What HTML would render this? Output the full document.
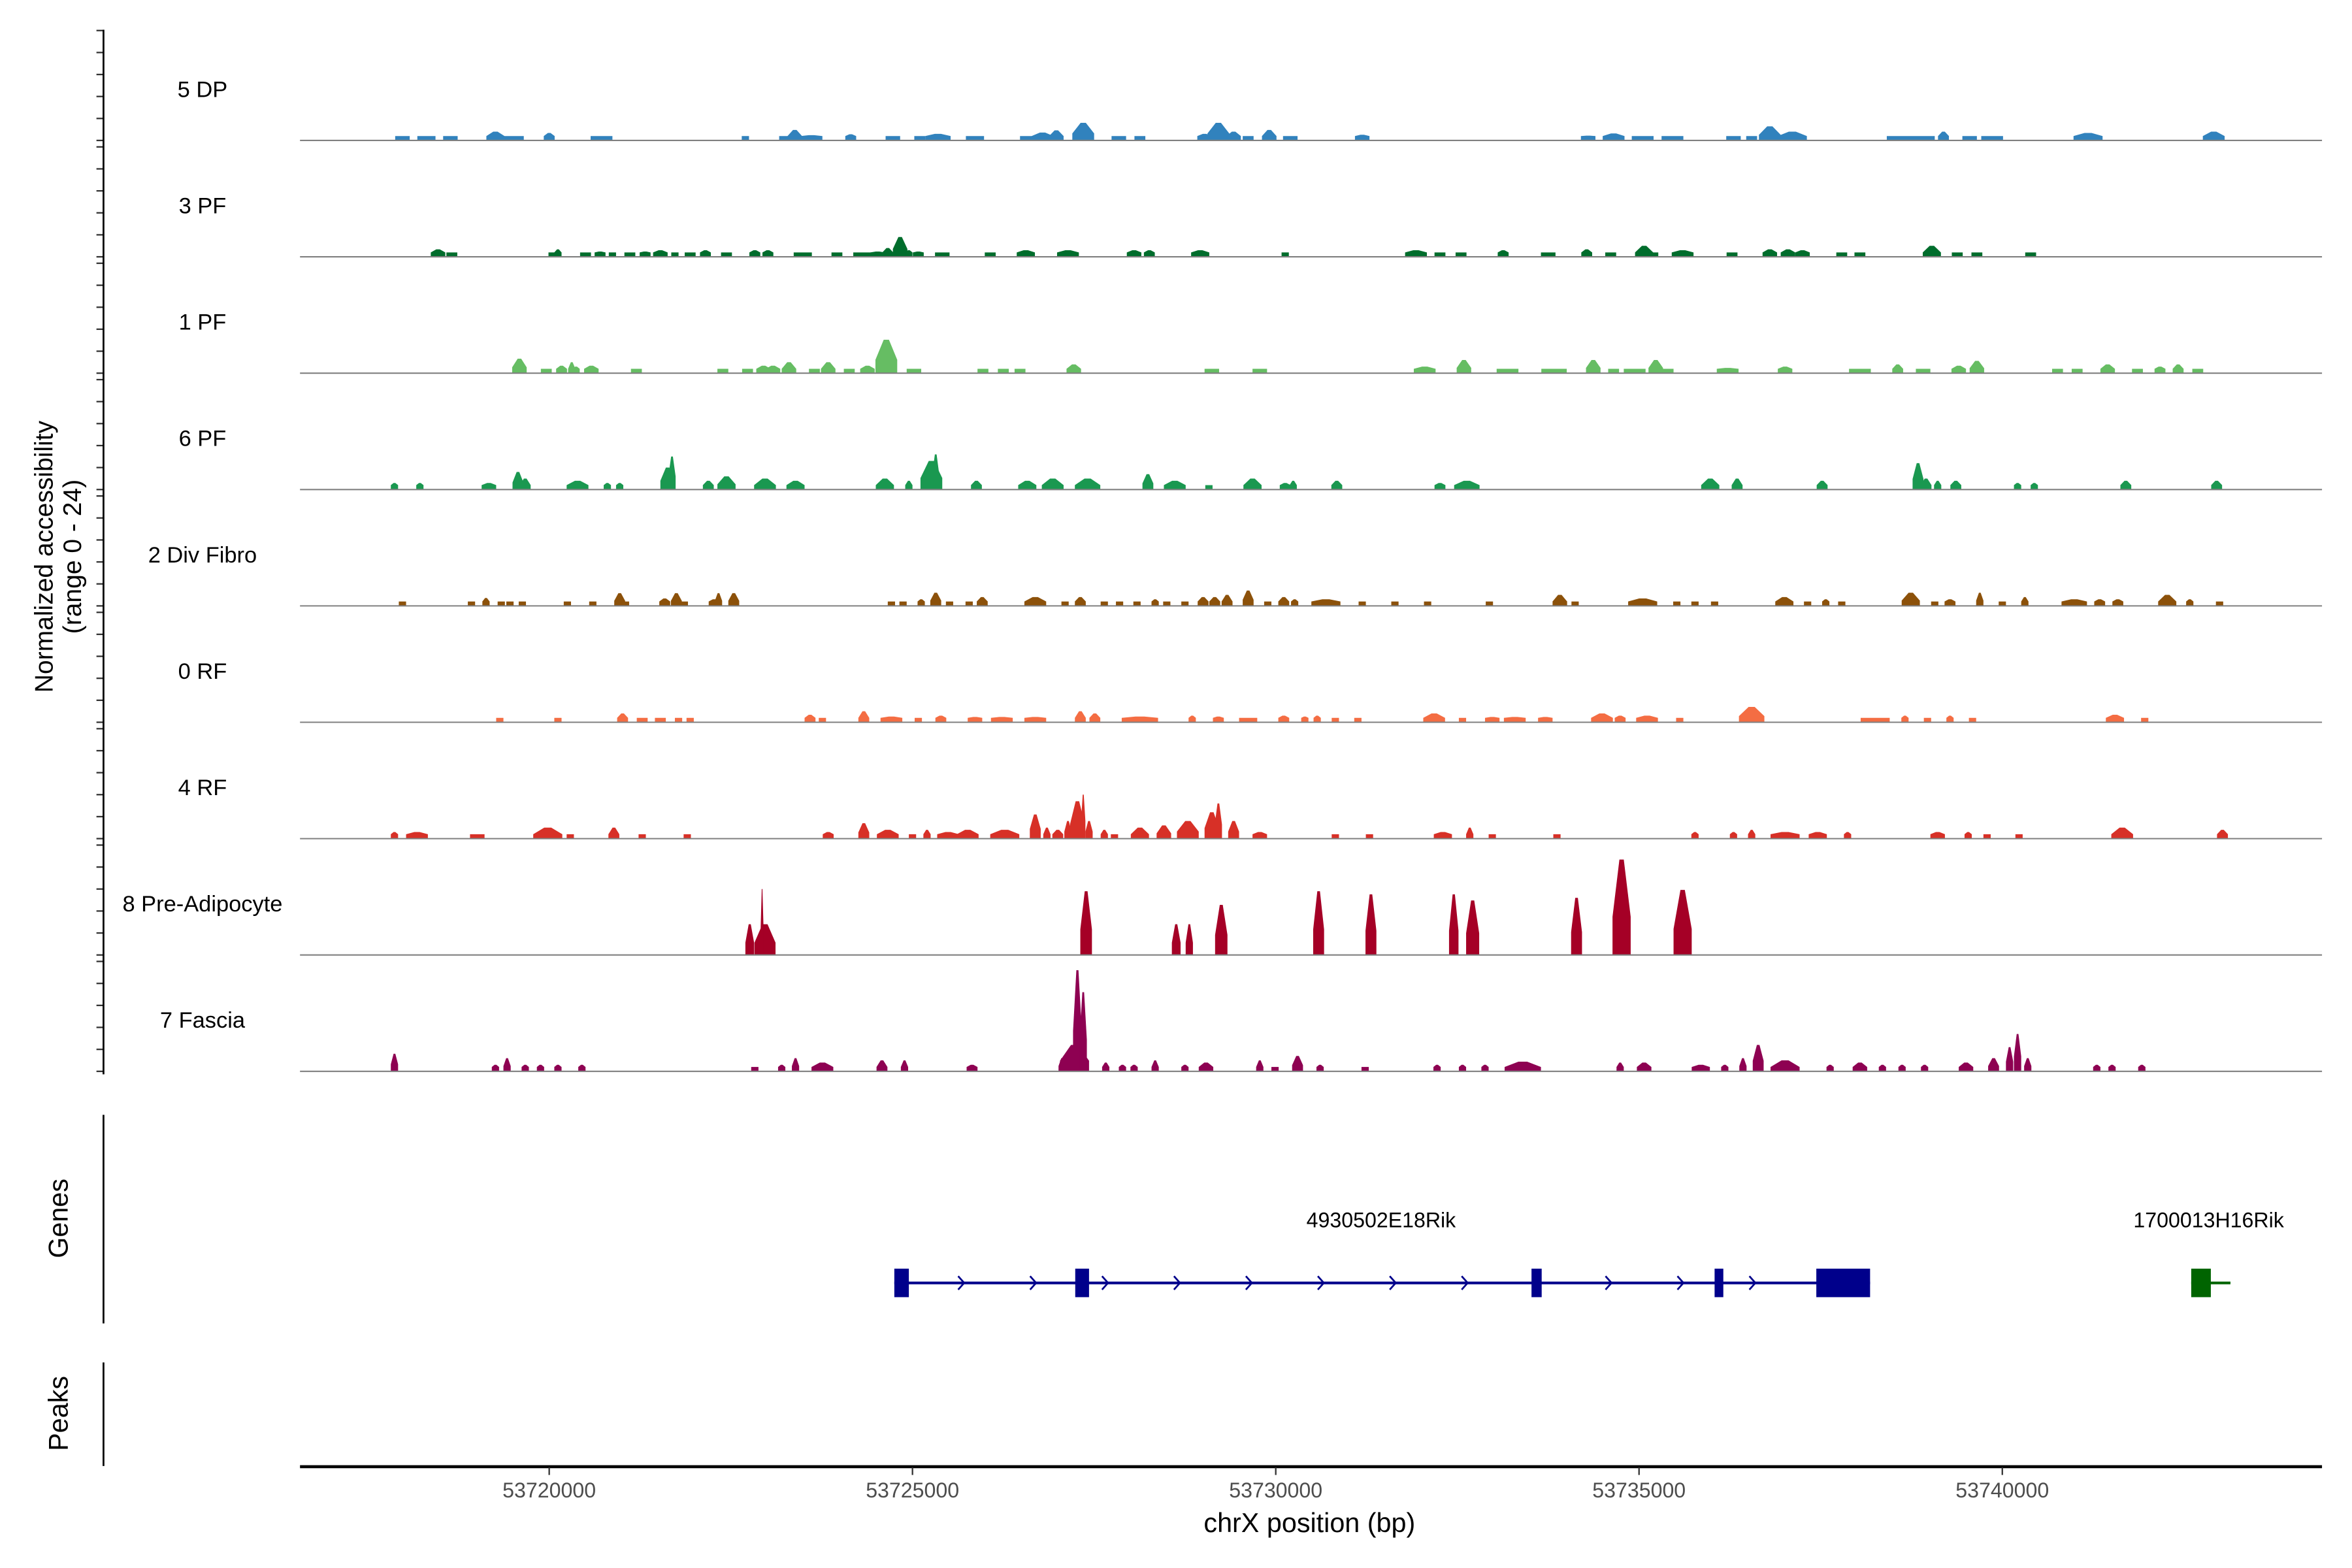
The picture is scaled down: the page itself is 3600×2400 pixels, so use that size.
<!DOCTYPE html>
<html><head><meta charset="utf-8">
<style>
html,body{margin:0;padding:0;background:#fff;}
svg{display:block;font-family:"Liberation Sans",sans-serif;}
</style></head>
<body>
<svg id="chart" xmlns="http://www.w3.org/2000/svg" width="3600" height="2400" viewBox="0 0 1568 1045" preserveAspectRatio="none">
  <rect x="0" y="0" width="1568" height="1045" fill="#fff"/>
  <g id="tracks"></g>
  <g id="yaxis"></g>
  <text transform="translate(35,371) rotate(-90)" text-anchor="middle" font-size="17" fill="#000">Normalized accessibility</text>
  <text transform="translate(54,371) rotate(-90)" text-anchor="middle" font-size="17" fill="#000">(range 0 - 24)</text>
  <line x1="69" y1="743" x2="69" y2="882" stroke="#000" stroke-width="1.2"/>
  <text transform="translate(45,812) rotate(-90)" text-anchor="middle" font-size="18" fill="#000">Genes</text>
  <line x1="69" y1="908" x2="69" y2="977" stroke="#000" stroke-width="1.2"/>
  <text transform="translate(45,942) rotate(-90)" text-anchor="middle" font-size="18" fill="#000">Peaks</text>
  <g id="genes"></g>
  <g id="xaxis"></g>
  <text x="873" y="1021" text-anchor="middle" font-size="18" fill="#000">chrX position (bp)</text>
</svg>
<script>
const regionStartKb = 53700;
const trackNames = ["5 DP","3 PF","1 PF","6 PF","2 Div Fibro","0 RF","4 RF","8 Pre-Adipocyte","7 Fascia"];
const trackColors = ["#3182bd","#006d2c","#66bd63","#1a9850","#8c510a","#f46d43","#d73027","#a50026","#8e0152"];
const xTickValues = [53720000,53725000,53730000,53735000,53740000];
const xTickLabels = ["53720000","53725000","53730000","53735000","53740000"];
const yTickUnits = [0,5,10,15,20,25];
// peaks: [position kb offset from regionStartKb, height (normalized), width kb]
const peaksDP = [[17.98,1,.2],[18.31,1,.25],[18.64,1,.2],[19.26,2,.25],[19.50,1,.3],[20.00,1.7,.15],[20.72,1,.3],[22.70,1,.1],[23.24,1,.15],[23.38,2.4,.2],[23.61,1.2,.3],[24.15,1.4,.15],[24.73,1,.2],[25.10,1,.15],[25.35,1.5,.35],[25.86,1,.25],[26.58,1,.2],[26.79,1.8,.3],[26.98,2.3,.2],[27.35,4,.3],[27.84,1,.2],[28.13,1,.15],[29.02,1.5,.2],[29.21,4,.3],[29.42,2,.2],[29.62,1,.15],[29.91,2.4,.2],[30.20,1,.2],[31.19,1.3,.2],[34.30,1.1,.2],[34.65,1.6,.3],[35.05,1,.3],[35.46,1,.3],[36.30,1,.2],[36.55,1,.15],[36.80,3.2,.3],[37.11,2,.4],[38.74,1,.66],[39.19,2,.15],[39.55,1,.2],[39.86,1,.3],[41.18,1.7,.4],[42.91,2,.3]];
const peaksPF3 = [[18.47,1.7,.2],[18.66,1,.15],[20.04,1,.1],[20.12,1.7,.1],[20.50,1,.15],[20.70,1.2,.15],[20.87,1,.1],[21.11,1,.15],[21.32,1.2,.15],[21.53,1.5,.2],[21.73,1,.1],[21.94,1,.15],[22.15,1.5,.15],[22.44,1,.15],[22.83,1.5,.15],[23.01,1.5,.15],[23.49,1,.25],[23.96,1,.15],[24.31,1,.25],[24.52,1.2,.2],[24.66,2,.15],[24.83,4.5,.2],[24.95,1.5,.1],[25.08,1.2,.15],[25.41,1,.2],[26.07,1,.15],[26.56,1.5,.25],[27.14,1.5,.3],[28.05,1.5,.2],[28.26,1.5,.15],[28.96,1.5,.25],[30.13,1,.1],[31.93,1.5,.3],[32.26,1,.15],[32.55,1,.15],[33.13,1.5,.15],[33.75,1,.2],[34.28,1.7,.15],[34.61,1,.15],[35.07,2.5,.25],[35.19,1,.15],[35.60,1.5,.3],[36.28,1,.15],[36.80,1.7,.2],[37.05,1.7,.2],[37.25,1.5,.2],[37.79,1,.15],[38.04,1,.15],[39.03,2.5,.25],[39.38,1,.15],[39.65,1,.15],[40.39,1,.15]];
const peaksPF1 = [[19.59,3.3,.2],[19.96,1,.15],[20.17,1.7,.15],[20.31,2.5,.1],[20.37,1.5,.1],[20.58,1.7,.2],[21.20,1,.15],[22.39,1,.15],[22.73,1,.15],[22.95,1.7,.2],[23.08,1.7,.2],[23.30,2.5,.2],[23.65,1,.15],[23.84,2.5,.2],[24.13,1,.15],[24.38,1.7,.2],[24.64,7.6,.3],[25.02,1,.2],[25.97,1,.15],[26.25,1,.15],[26.48,1,.15],[27.22,2,.2],[29.12,1,.2],[29.78,1,.2],[32.05,1.5,.3],[32.59,3,.2],[33.19,1,.3],[33.83,1,.35],[34.37,3,.2],[34.65,1,.15],[34.94,1,.3],[35.23,3,.2],[35.40,1,.15],[36.22,1.2,.3],[37.01,1.5,.2],[38.04,1,.3],[38.56,2,.15],[38.91,1,.2],[39.40,1.7,.2],[39.65,2.8,.2],[40.76,1,.15],[41.03,1,.15],[41.45,2,.2],[41.86,1,.15],[42.17,1.5,.15],[42.42,2,.15],[42.69,1,.15]];
const peaksPF6 = [[17.87,1.5,.1],[18.22,1.5,.1],[19.17,1.5,.2],[19.57,4,.15],[19.67,2.5,.15],[20.39,2,.3],[20.80,1.5,.1],[20.97,1.5,.1],[21.63,5,.2],[21.69,7.5,.1],[22.19,2,.15],[22.44,3,.25],[22.97,2.5,.3],[23.39,2,.25],[24.62,2.5,.25],[24.95,2,.1],[25.26,6.5,.3],[25.32,8,.1],[25.88,2,.15],[26.58,2,.25],[26.93,2.5,.3],[27.41,2.5,.35],[28.24,3.5,.15],[28.61,2,.3],[29.08,1,.1],[29.68,2.5,.25],[30.13,1.5,.15],[30.24,2,.1],[30.84,2,.15],[32.26,1.5,.15],[32.63,2,.35],[35.98,2.5,.25],[36.35,2.5,.15],[37.52,2,.15],[38.84,6,.15],[38.95,2.5,.15],[39.11,2,.1],[39.36,2,.15],[40.21,1.5,.1],[40.44,1.5,.1],[41.70,2,.15],[42.95,2,.15]];
const peaksDiv = [[17.98,1,.1],[18.93,1,.1],[19.13,1.8,.1],[19.34,1,.1],[19.46,1,.1],[19.63,1,.1],[20.25,1,.1],[20.60,1,.1],[20.97,2.9,.15],[21.05,1,.1],[21.59,1.7,.15],[21.75,2.9,.15],[21.86,1,.1],[22.27,1.5,.15],[22.33,2.9,.1],[22.54,2.9,.15],[24.71,1,.1],[24.87,1,.1],[25.12,1.5,.1],[25.32,3,.15],[25.51,1,.1],[25.78,1,.1],[25.96,2,.15],[26.69,2,.3],[27.10,1,.1],[27.31,2,.15],[27.64,1,.1],[27.85,1,.1],[28.09,1,.1],[28.34,1.5,.1],[28.50,1,.1],[28.75,1,.1],[29.00,2,.15],[29.16,2,.15],[29.33,2.5,.15],[29.62,3.5,.15],[29.89,1,.1],[30.11,2,.15],[30.26,1.5,.1],[30.69,1.5,.4],[31.19,1,.1],[31.64,1,.1],[32.09,1,.1],[32.94,1,.1],[33.91,2.5,.2],[34.12,1,.1],[35.05,1.7,.4],[35.52,1,.1],[35.77,1,.1],[36.04,1,.1],[37.00,2,.25],[37.32,1,.1],[37.57,1.5,.1],[37.79,1,.1],[38.74,3,.25],[39.07,1,.1],[39.28,1.5,.15],[39.69,3,.1],[40.00,1,.1],[40.31,2,.1],[40.99,1.5,.35],[41.34,1.5,.15],[41.59,1.5,.15],[42.27,2.5,.25],[42.58,1.5,.1],[42.99,1,.1]];
const peaksRF0 = [[19.32,1,.1],[20.12,1,.1],[21.01,2,.15],[21.28,1,.15],[21.53,1,.15],[21.78,1,.1],[21.94,1,.1],[23.59,1.7,.15],[23.76,1,.1],[24.33,2.5,.15],[24.71,1.3,.3],[25.08,1,.1],[25.39,1.5,.15],[25.86,1.2,.2],[26.23,1.2,.3],[26.69,1.2,.3],[27.31,2.5,.15],[27.51,2,.15],[28.13,1.3,.5],[28.85,1.5,.1],[29.21,1.3,.15],[29.62,1,.25],[30.11,1.5,.15],[30.40,1.3,.1],[30.57,1.5,.1],[30.82,1,.1],[31.13,1,.1],[32.18,2,.3],[32.57,1,.1],[32.98,1.2,.2],[33.29,1.2,.3],[33.71,1.2,.2],[34.49,2,.3],[34.74,1.5,.15],[35.11,1.5,.3],[35.56,1,.1],[36.55,3.5,.35],[38.25,1,.4],[38.66,1.5,.1],[38.97,1,.1],[39.28,1.5,.1],[39.59,1,.1],[41.55,1.7,.25],[41.96,1,.1]];
const peaksRF4 = [[17.87,1.5,.1],[18.18,1.5,.3],[19.01,1,.2],[19.98,2.5,.4],[20.29,1,.1],[20.89,2.5,.15],[21.28,1,.1],[21.90,1,.1],[23.84,1.5,.15],[24.33,3.5,.15],[24.66,2,.3],[25.00,1,.1],[25.20,2,.1],[25.49,1.5,.3],[25.76,2,.3],[26.27,2,.4],[26.69,5.5,.15],[26.85,2.5,.1],[27.00,2,.15],[27.14,4,.1],[27.27,8.5,.2],[27.35,10,.06],[27.43,4,.1],[27.64,2,.1],[27.78,1,.1],[28.13,2.5,.25],[28.46,3,.2],[28.79,4,.3],[29.12,6,.2],[29.21,8,.1],[29.42,4,.15],[29.78,1.5,.2],[30.82,1,.1],[31.29,1,.1],[32.30,1.5,.25],[32.67,2.5,.1],[32.98,1,.1],[33.87,1,.1],[35.77,1.5,.1],[36.30,1.5,.1],[36.55,2,.1],[37.01,1.5,.4],[37.46,1.5,.25],[37.87,1.5,.1],[39.11,1.5,.2],[39.53,1.5,.1],[39.79,1,.1],[40.23,1,.1],[41.65,2.5,.3],[43.03,2,.15]];
const peaksPreAd = [[22.76,7,.12],[22.97,7,.29],[22.93,15,.04],[27.39,14.5,.16],[28.63,7,.12],[28.81,7,.1],[29.25,11.4,.17],[30.59,14.5,.15],[31.31,13.8,.15],[32.45,13.8,.13],[32.71,12.4,.18],[34.14,13,.15],[34.76,21.7,.25],[35.60,14.8,.25]];
const peaksFascia = [[17.87,4,.1],[19.26,1.5,.1],[19.42,3,.1],[19.67,1.5,.1],[19.88,1.5,.1],[20.12,1.5,.1],[20.45,1.5,.1],[22.83,1,.1],[23.20,1.5,.1],[23.39,3,.1],[23.76,2,.3],[24.58,2.5,.15],[24.89,2.5,.1],[25.82,1.5,.15],[27.06,3,.1],[27.23,6,.4],[27.27,23,.12],[27.35,18,.1],[27.66,2,.1],[27.89,1.5,.1],[28.05,1.5,.1],[28.34,2.5,.1],[28.75,1.5,.1],[29.04,2,.2],[29.78,2.5,.1],[29.99,1,.1],[30.30,3.5,.15],[30.61,1.5,.1],[31.23,1,.1],[32.22,1.5,.1],[32.57,1.5,.1],[32.88,1.5,.1],[33.40,2.2,.5],[34.74,2,.1],[35.07,2,.2],[35.85,1.5,.25],[36.18,1.5,.1],[36.43,3,.1],[36.64,6,.15],[37.01,2.5,.4],[37.63,1.5,.1],[38.04,2,.2],[38.35,1.5,.1],[38.62,1.5,.1],[38.93,1.5,.1],[39.50,2,.2],[39.88,3,.15],[40.10,5.5,.1],[40.21,8.5,.1],[40.35,3,.1],[41.30,1.5,.1],[41.51,1.5,.1],[41.92,1.5,.1]];
const trackPeaks = [peaksDP,peaksPF3,peaksPF1,peaksPF6,peaksDiv,peaksRF0,peaksRF4,peaksPreAd,peaksFascia];
// genes (kb offsets)
const geneMainSpan = [24.75,38.18];
const geneMainExons = [[24.75,24.95],[27.24,27.43],[33.52,33.66],[36.04,36.16],[37.44,38.18]];
const geneMainChevrons = [24.83,25.67,26.66,27.65,28.64,29.63,30.62,31.61,32.60,34.58,35.57,36.56];
const geneSecondSpan = [42.60,43.14];
const geneSecondExons = [[42.60,42.87]];
const geneLabels = ["4930502E18Rik","1700013H16Rik"];
const geneLabelPos = [31.45,42.84];

const NS = "http://www.w3.org/2000/svg";
const plotLeft = 200, plotRight = 1548, domainMin = 16.57, domainMax = 44.40;
function xScale(kb){ return plotLeft + (kb - domainMin) * (plotRight - plotLeft) / (domainMax - domainMin); }
const firstBaseline = 93.6, trackStep = 77.55, pxPerUnit = 2.93;
function baseY(i){ return firstBaseline + i * trackStep; }
function yScale(i, v){ return baseY(i) - v * pxPerUnit; }
function mk(tag, attrs, parent){ const e = document.createElementNS(NS, tag); for (const k in attrs) e.setAttribute(k, attrs[k]); parent.appendChild(e); return e; }

const tracksG = document.getElementById('tracks');
const yG = document.getElementById('yaxis');
trackNames.forEach((name, i) => {
  const g = mk('g', {}, tracksG);
  
  
  const lab = mk('text', {x: 135, y: baseY(i) - 29, 'text-anchor': 'middle', 'font-size': 15, fill: '#000'}, g);
  lab.textContent = name;
  
  
  trackPeaks[i].forEach(p => {
    const c = p[0], h = p[1], w = p[2];
    let l = xScale(c - w / 2), r = xScale(c + w / 2);
    if (r - l < 1) { const m = (l + r) / 2; l = m - 0.5; r = m + 0.5; }
    const cx = (l + r) / 2, tw = (r - l) * 0.12;
    const b = baseY(i), top = yScale(i, h), mid = yScale(i, Math.min(h, Math.max(1, h * 0.4)));
    const pts = [[l,b],[l,mid],[cx-tw,top],[cx+tw,top],[r,mid],[r,b]].map(q => q[0].toFixed(2) + ',' + q[1].toFixed(2)).join(' ');
    const poly = mk('polygon', {points: pts, fill: trackColors[i]}, g);
    
    
  });
  const bl = mk('line', {x1: plotLeft, x2: plotRight, y1: baseY(i), y2: baseY(i), stroke: '#808080', 'stroke-width': 0.9}, g);
  
  
  yTickUnits.forEach(u => {
    const t = mk('line', {x1: 64.3, x2: 69, y1: yScale(i, u), y2: yScale(i, u), stroke: '#333', 'stroke-width': 1}, yG);
    
    
  });
});
const yl = mk('line', {x1: 69, x2: 69, y1: 19.8, y2: 716, stroke: '#000', 'stroke-width': 1.2}, yG);



// genes
const gG = document.getElementById('genes');
const geneY = 855, exonH = 19;
const gl = mk('line', {x1: xScale(geneMainSpan[0]), x2: xScale(geneMainSpan[1]), y1: geneY, y2: geneY, stroke: '#00008b', 'stroke-width': 1.8}, gG);


geneMainChevrons.forEach(c => {
  const x = xScale(c);
  const ch = mk('polyline', {points: (x-2)+','+(geneY-4.5)+' '+(x+2)+','+geneY+' '+(x-2)+','+(geneY+4.5), fill: 'none', stroke: '#00008b', 'stroke-width': 1.2}, gG);
  
  
});
geneMainExons.forEach(e => {
  const r = mk('rect', {x: xScale(e[0]), y: geneY - exonH/2, width: Math.max(3, xScale(e[1]) - xScale(e[0])), height: exonH, fill: '#00008b'}, gG);
  
  
});
const gl2 = mk('line', {x1: xScale(geneSecondSpan[0]), x2: xScale(geneSecondSpan[1]), y1: geneY, y2: geneY, stroke: '#006400', 'stroke-width': 1.8}, gG);


geneSecondExons.forEach(e => {
  const r = mk('rect', {x: xScale(e[0]), y: geneY - exonH/2, width: xScale(e[1]) - xScale(e[0]), height: exonH, fill: '#006400'}, gG);
  
  
});
geneLabels.forEach((t, i) => {
  const tx = mk('text', {x: xScale(geneLabelPos[i]), y: 818, 'text-anchor': 'middle', 'font-size': 14, fill: '#000'}, gG);
  tx.textContent = t;
  
  
});

// x axis
const xG = document.getElementById('xaxis');
const xl = mk('line', {x1: plotLeft, x2: plotRight, y1: 977.5, y2: 977.5, stroke: '#000', 'stroke-width': 2}, xG);


xTickValues.forEach((v, i) => {
  const x = xScale(v / 1000 - regionStartKb);
  const t = mk('line', {x1: x, x2: x, y1: 978, y2: 983, stroke: '#333', 'stroke-width': 1}, xG);
  
  
  const tl = mk('text', {x: x, y: 998, 'text-anchor': 'middle', 'font-size': 14, fill: '#4d4d4d'}, xG);
  tl.textContent = xTickLabels[i];
  
  
});
</script>
</body></html>
